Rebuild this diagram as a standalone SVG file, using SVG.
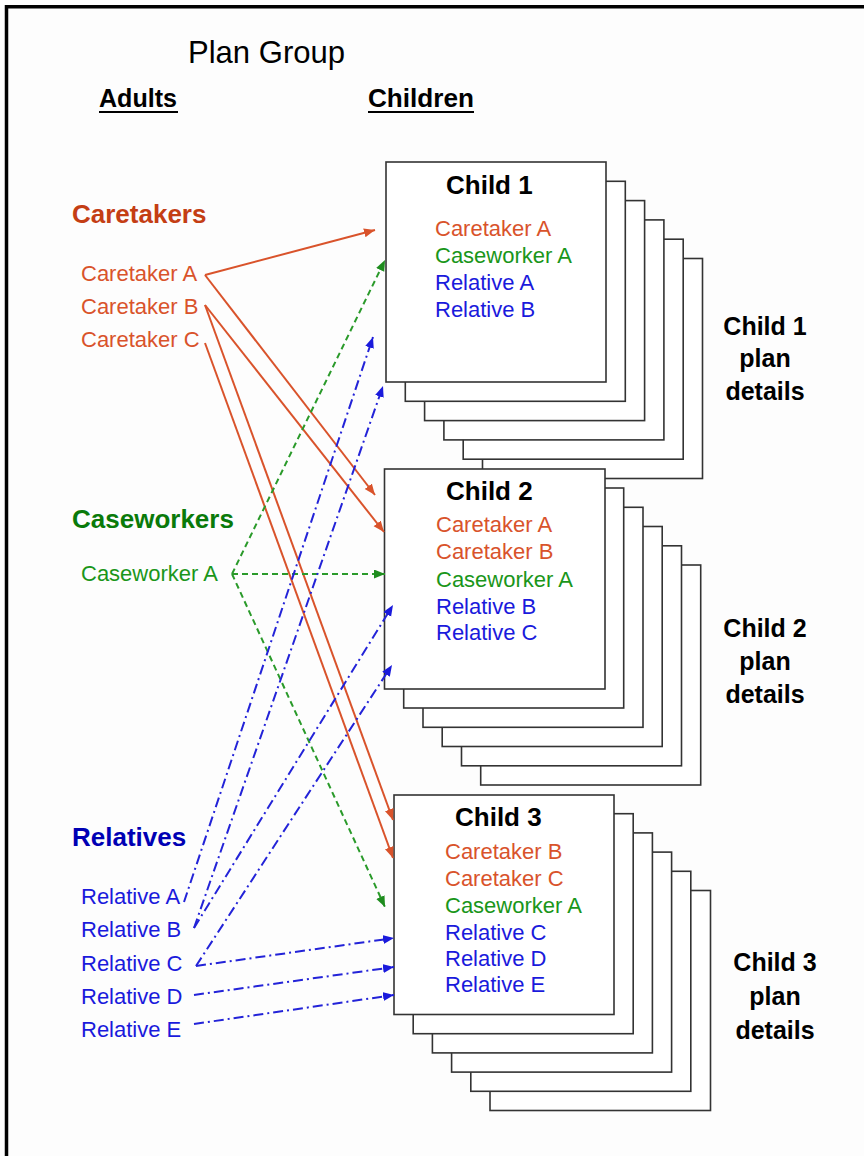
<svg xmlns="http://www.w3.org/2000/svg" width="864" height="1156" viewBox="0 0 864 1156">
<style>
text{font-family:"Liberation Sans",Arial,sans-serif}
.hd{font-weight:bold;font-size:26px}
.it{font-size:22px}
.ttl{font-weight:bold;font-size:26px;fill:#000}
.pd{font-weight:bold;font-size:25px;fill:#000;text-anchor:middle}
.card{fill:#fff;stroke:#333;stroke-width:1.6}
.o{fill:#D9532B}.g{fill:#1A961A}.b{fill:#1A1ADC}
.ct{stroke:#D9532B;stroke-width:2;fill:none;marker-end:url(#ao)}
.cw{stroke:#2A9A2A;stroke-width:2;fill:none;stroke-dasharray:6 4;marker-end:url(#ag)}
.rl{stroke:#2323D8;stroke-width:2;fill:none;stroke-dasharray:10 4 2 4;marker-end:url(#ab)}
</style>
<defs>
<marker id="ao" markerUnits="userSpaceOnUse" markerWidth="12" markerHeight="10" refX="11" refY="4.5" orient="auto"><path d="M0,0 L11,4.5 L0,9 z" fill="#D9532B"/></marker>
<marker id="ag" markerUnits="userSpaceOnUse" markerWidth="12" markerHeight="10" refX="11" refY="4.5" orient="auto"><path d="M0,0 L11,4.5 L0,9 z" fill="#1E8C1E"/></marker>
<marker id="ab" markerUnits="userSpaceOnUse" markerWidth="12" markerHeight="10" refX="11" refY="4.5" orient="auto"><path d="M0,0 L11,4.5 L0,9 z" fill="#1A1ADC"/></marker>
</defs>
<rect x="0" y="0" width="864" height="1156" fill="#FDFDFD"/>
<path d="M6.5,1156 V6.7 H864" fill="none" stroke="#000" stroke-width="3.5"/>

<g id="headers">
<text x="188" y="63" font-size="30.5" textLength="157" lengthAdjust="spacingAndGlyphs">Plan Group</text>
<text class="hd" x="99" y="107" textLength="78" lengthAdjust="spacingAndGlyphs">Adults</text>
<line x1="99" y1="112" x2="178" y2="112" stroke="#000" stroke-width="2"/>
<text class="hd" x="368" y="107" textLength="106" lengthAdjust="spacingAndGlyphs">Children</text>
<line x1="368" y1="112" x2="474" y2="112" stroke="#000" stroke-width="2"/>
</g>

<g id="caretakers">
<text class="hd" x="72" y="223" fill="#C43E14">Caretakers</text>
<text class="it o" x="81" y="281">Caretaker A</text>
<text class="it o" x="81" y="314">Caretaker B</text>
<text class="it o" x="81" y="347">Caretaker C</text>
</g>
<g id="caseworkers">
<text class="hd" x="72" y="528" fill="#0A7A0A">Caseworkers</text>
<text class="it g" x="81" y="581">Caseworker A</text>
</g>
<g id="relatives">
<text class="hd" x="72" y="846" fill="#0000B4">Relatives</text>
<text class="it b" x="81" y="904">Relative A</text>
<text class="it b" x="81" y="937">Relative B</text>
<text class="it b" x="81" y="971">Relative C</text>
<text class="it b" x="81" y="1004">Relative D</text>
<text class="it b" x="81" y="1037">Relative E</text>
</g>

<g id="child1">
<rect class="card" x="482.5" y="258.5" width="220" height="220"/>
<rect class="card" x="463.2" y="239.2" width="220" height="220"/>
<rect class="card" x="443.9" y="219.9" width="220" height="220"/>
<rect class="card" x="424.6" y="200.6" width="220" height="220"/>
<rect class="card" x="405.3" y="181.3" width="220" height="220"/>
<rect class="card" x="386" y="162" width="220" height="220"/>
<text class="ttl" x="446" y="194">Child 1</text>
<text class="it o" x="435" y="236">Caretaker A</text>
<text class="it g" x="435" y="263">Caseworker A</text>
<text class="it b" x="435" y="290">Relative A</text>
<text class="it b" x="435" y="317">Relative B</text>
</g>

<g id="child2">
<rect class="card" x="480.7" y="565" width="220" height="220"/>
<rect class="card" x="461.5" y="545.8" width="220" height="220"/>
<rect class="card" x="442.2" y="526.5" width="220" height="220"/>
<rect class="card" x="423" y="507.3" width="220" height="220"/>
<rect class="card" x="403.7" y="488" width="220" height="220"/>
<rect class="card" x="384.5" y="469" width="220.5" height="220"/>
<text class="ttl" x="446" y="500">Child 2</text>
<text class="it o" x="436" y="532">Caretaker A</text>
<text class="it o" x="436" y="559">Caretaker B</text>
<text class="it g" x="436" y="587">Caseworker A</text>
<text class="it b" x="436" y="614">Relative B</text>
<text class="it b" x="436" y="640">Relative C</text>
</g>

<g id="child3">
<rect class="card" x="490" y="890.5" width="220.5" height="220"/>
<rect class="card" x="470.8" y="871.3" width="220" height="220"/>
<rect class="card" x="451.6" y="852.1" width="220" height="220"/>
<rect class="card" x="432.4" y="832.9" width="220" height="220"/>
<rect class="card" x="413.2" y="813.7" width="220" height="220"/>
<rect class="card" x="394" y="795" width="220" height="219.5"/>
<text class="ttl" x="455" y="826">Child 3</text>
<text class="it o" x="445" y="859">Caretaker B</text>
<text class="it o" x="445" y="886">Caretaker C</text>
<text class="it g" x="445" y="913">Caseworker A</text>
<text class="it b" x="445" y="940">Relative C</text>
<text class="it b" x="445" y="966">Relative D</text>
<text class="it b" x="445" y="992">Relative E</text>
</g>

<g id="plan-details-1">
<text class="pd" x="765" y="335">Child 1</text>
<text class="pd" x="765" y="367">plan</text>
<text class="pd" x="765" y="400">details</text>
</g>
<g id="plan-details-2">
<text class="pd" x="765" y="637">Child 2</text>
<text class="pd" x="765" y="670">plan</text>
<text class="pd" x="765" y="703">details</text>
</g>
<g id="plan-details-3">
<text class="pd" x="775" y="971">Child 3</text>
<text class="pd" x="775" y="1005">plan</text>
<text class="pd" x="775" y="1039">details</text>
</g>

<g id="connectors">
<line class="ct" x1="205" y1="275" x2="375" y2="230"/>
<line class="ct" x1="205" y1="275" x2="375" y2="495"/>
<line class="ct" x1="205" y1="305" x2="384" y2="532"/>
<line class="ct" x1="205" y1="305" x2="393" y2="820"/>
<line class="ct" x1="205" y1="343" x2="393" y2="858"/>
<line class="cw" x1="232" y1="574" x2="385" y2="260"/>
<line class="cw" x1="232" y1="574" x2="385" y2="574"/>
<line class="cw" x1="232" y1="574" x2="385" y2="907"/>
<line class="rl" x1="184" y1="902" x2="373" y2="337"/>
<line class="rl" x1="194" y1="928" x2="383" y2="386"/>
<line class="rl" x1="194" y1="928" x2="393" y2="605"/>
<line class="rl" x1="196" y1="966" x2="392" y2="665"/>
<line class="rl" x1="196" y1="966" x2="394" y2="938"/>
<line class="rl" x1="194" y1="995" x2="394" y2="967"/>
<line class="rl" x1="194" y1="1024" x2="394" y2="995"/>
</g>
</svg>
